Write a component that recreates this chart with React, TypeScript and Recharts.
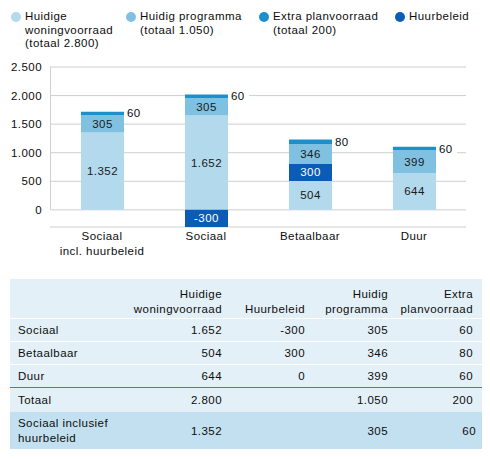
import React from 'react'
import { BarChart, Bar, XAxis, YAxis, CartesianGrid, LabelList } from 'recharts'

const categories = ['Sociaal\nincl. huurbeleid', 'Sociaal', 'Betaalbaar', 'Duur']
const woningvoorraad = [1352, 1652, 504, 644]
const huurbeleid = [0, -300, 300, 0]
const programma = [305, 305, 346, 399]
const extra = [60, 60, 80, 60]
const yTicks = [0, 500, 1000, 1500, 2000, 2500]

const tableRows = ['Sociaal', 'Betaalbaar', 'Duur']
const tableWoning = [1652, 504, 644]
const tableHuur = [-300, 300, 0]
const tableProgramma = [305, 346, 399]
const tableExtra = [60, 80, 60]

const C_WONING = '#b3d9ec'
const C_PROG = '#80c1e2'
const C_EXTRA = '#1c90cc'
const C_HUUR = '#0a5cb6'
const FONT = '"Liberation Sans", Arial, Helvetica, sans-serif'
const TXT = '#0d0d0d'
const FS = 11.5
const LS = 0.45

const legendItems = [
  { color: C_WONING, lines: ['Huidige', 'woningvoorraad', '(totaal 2.800)'], left: 11 },
  { color: C_PROG, lines: ['Huidig programma', '(totaal 1.050)'], left: 126 },
  { color: C_EXTRA, lines: ['Extra planvoorraad', '(totaal 200)'], left: 259 },
  { color: C_HUUR, lines: ['Huurbeleid'], left: 395 },
]

const fmt = (n: number) => String(n).replace(/\B(?=(\d{3})+(?!\d))/g, '.')
const sum = (a: number[]) => a.reduce((s, v) => s + v, 0)

const data = categories.map((name, i) => ({
  name,
  woning: woningvoorraad[i],
  huur: huurbeleid[i],
  prog: programma[i],
  extra: extra[i],
}))

function CatTick(props: any) {
  const { x, y, payload } = props
  const lines = String(payload.value).split('\n')
  return (
    <text x={x} y={y + 5} textAnchor="middle" fontSize={FS} fill={TXT} fontFamily={FONT} letterSpacing={LS}>
      {lines.map((l, i) => (
        <tspan key={i} x={x} dy={i === 0 ? 0 : 14.5}>{l}</tspan>
      ))}
    </text>
  )
}

const innerLabel = (color: string) => (props: any) => {
  const { x, y, width, height, value } = props
  if (!value) return null
  return (
    <text x={x + width / 2} y={y + height / 2} textAnchor="middle" dominantBaseline="central"
      fontSize={FS} fill={color} fontFamily={FONT} letterSpacing={LS}>
      {fmt(value)}
    </text>
  )
}

function ExtraLabel(props: any) {
  const { x, y, width, height, value } = props
  const cy = y + Math.min(height, 0) + Math.abs(height) / 2
  return (
    <g>
      <rect x={x + width} y={cy - 7} width={21} height={14} fill="#fff" />
      <text x={x + width + 3} y={cy} dominantBaseline="central" fontSize={FS} fill={TXT} fontFamily={FONT} letterSpacing={LS}>
        {fmt(value)}
      </text>
    </g>
  )
}

const cell: React.CSSProperties = { padding: '0 9px 0 0', textAlign: 'right', verticalAlign: 'middle', whiteSpace: 'nowrap' }
const head: React.CSSProperties = { ...cell, verticalAlign: 'bottom', paddingBottom: 1, lineHeight: '15px' }

export default function App() {
  return (
    <div style={{ position: 'absolute', left: 0, top: 0, width: 490, height: 459, background: '#fff', fontFamily: FONT, color: TXT, fontSize: FS, letterSpacing: LS }}>
      {legendItems.map((it) => (
        <div key={it.lines[0]} style={{ position: 'absolute', left: it.left, top: 10, lineHeight: '13.5px' }}>
          <span style={{ position: 'absolute', left: 0, top: 2, width: 10, height: 10, borderRadius: 5, background: it.color }} />
          <div style={{ marginLeft: 14 }}>
            {it.lines.map((l) => <div key={l} style={{ whiteSpace: 'nowrap' }}>{l}</div>)}
          </div>
        </div>
      ))}

      <div style={{ position: 'absolute', left: 0, top: 0 }}>
        <BarChart width={490} height={270} data={data} stackOffset="sign" barSize={43}
          margin={{ top: 67, right: 24, left: 0, bottom: 8 }}>
          <CartesianGrid vertical={false} stroke="#cfcfcf" />
          <XAxis dataKey="name" axisLine={false} tickLine={false} interval={0} height={35} tick={<CatTick />} />
          <YAxis width={50} domain={[-300, 2500]} ticks={yTicks} axisLine={false} tickLine={false}
            tickFormatter={fmt} tick={{ fontSize: FS, fill: TXT, fontFamily: FONT, letterSpacing: LS }} />
          <Bar dataKey="woning" stackId="a" fill={C_WONING} isAnimationActive={false}>
            <LabelList dataKey="woning" content={innerLabel('#1a1a1a')} />
          </Bar>
          <Bar dataKey="huur" stackId="a" fill={C_HUUR} isAnimationActive={false}>
            <LabelList dataKey="huur" content={innerLabel('#ffffff')} />
          </Bar>
          <Bar dataKey="prog" stackId="a" fill={C_PROG} isAnimationActive={false}>
            <LabelList dataKey="prog" content={innerLabel('#1a1a1a')} />
          </Bar>
          <Bar dataKey="extra" stackId="a" fill={C_EXTRA} isAnimationActive={false}>
            <LabelList dataKey="extra" content={<ExtraLabel />} />
          </Bar>
        </BarChart>
      </div>
      <div style={{ position: 'absolute', left: 50, top: 67, width: 1, height: 142, background: '#cfcfcf' }} />

      <table style={{ position: 'absolute', left: 10, top: 279, width: 472, borderCollapse: 'collapse', fontSize: FS, background: '#e3f0f7', tableLayout: 'fixed' }}>
        <colgroup>
          <col style={{ width: 116 }} />
          <col style={{ width: 105 }} />
          <col style={{ width: 83 }} />
          <col style={{ width: 83 }} />
          <col style={{ width: 85 }} />
        </colgroup>
        <tbody>
          <tr style={{ height: 39 }}>
            <td />
            <td style={head}>Huidige<br />woningvoorraad</td>
            <td style={head}>Huurbeleid</td>
            <td style={head}>Huidig<br />programma</td>
            <td style={head}>Extra<br />planvoorraad</td>
          </tr>
          {tableRows.map((r, i) => (
            <tr key={r} style={{ height: 23, borderTop: '1px solid #ffffff' }}>
              <td style={{ paddingLeft: 8 }}>{r}</td>
              <td style={cell}>{fmt(tableWoning[i])}</td>
              <td style={cell}>{fmt(tableHuur[i])}</td>
              <td style={cell}>{fmt(tableProgramma[i])}</td>
              <td style={cell}>{fmt(tableExtra[i])}</td>
            </tr>
          ))}
          <tr style={{ height: 25, borderTop: `1.5px solid ${C_EXTRA}` }}>
            <td style={{ paddingLeft: 8 }}>Totaal</td>
            <td style={cell}>{fmt(sum(tableWoning))}</td>
            <td style={cell}></td>
            <td style={cell}>{fmt(sum(tableProgramma))}</td>
            <td style={cell}>{fmt(sum(tableExtra))}</td>
          </tr>
          <tr style={{ height: 37, background: '#c2e0ef' }}>
            <td style={{ paddingLeft: 8, lineHeight: '15px', whiteSpace: 'nowrap' }}>Sociaal inclusief<br />huurbeleid</td>
            <td style={cell}>{fmt(woningvoorraad[0])}</td>
            <td style={cell}></td>
            <td style={cell}>{fmt(programma[0])}</td>
            <td style={{ ...cell, paddingRight: 6 }}>{fmt(extra[0])}</td>
          </tr>
        </tbody>
      </table>
    </div>
  )
}
